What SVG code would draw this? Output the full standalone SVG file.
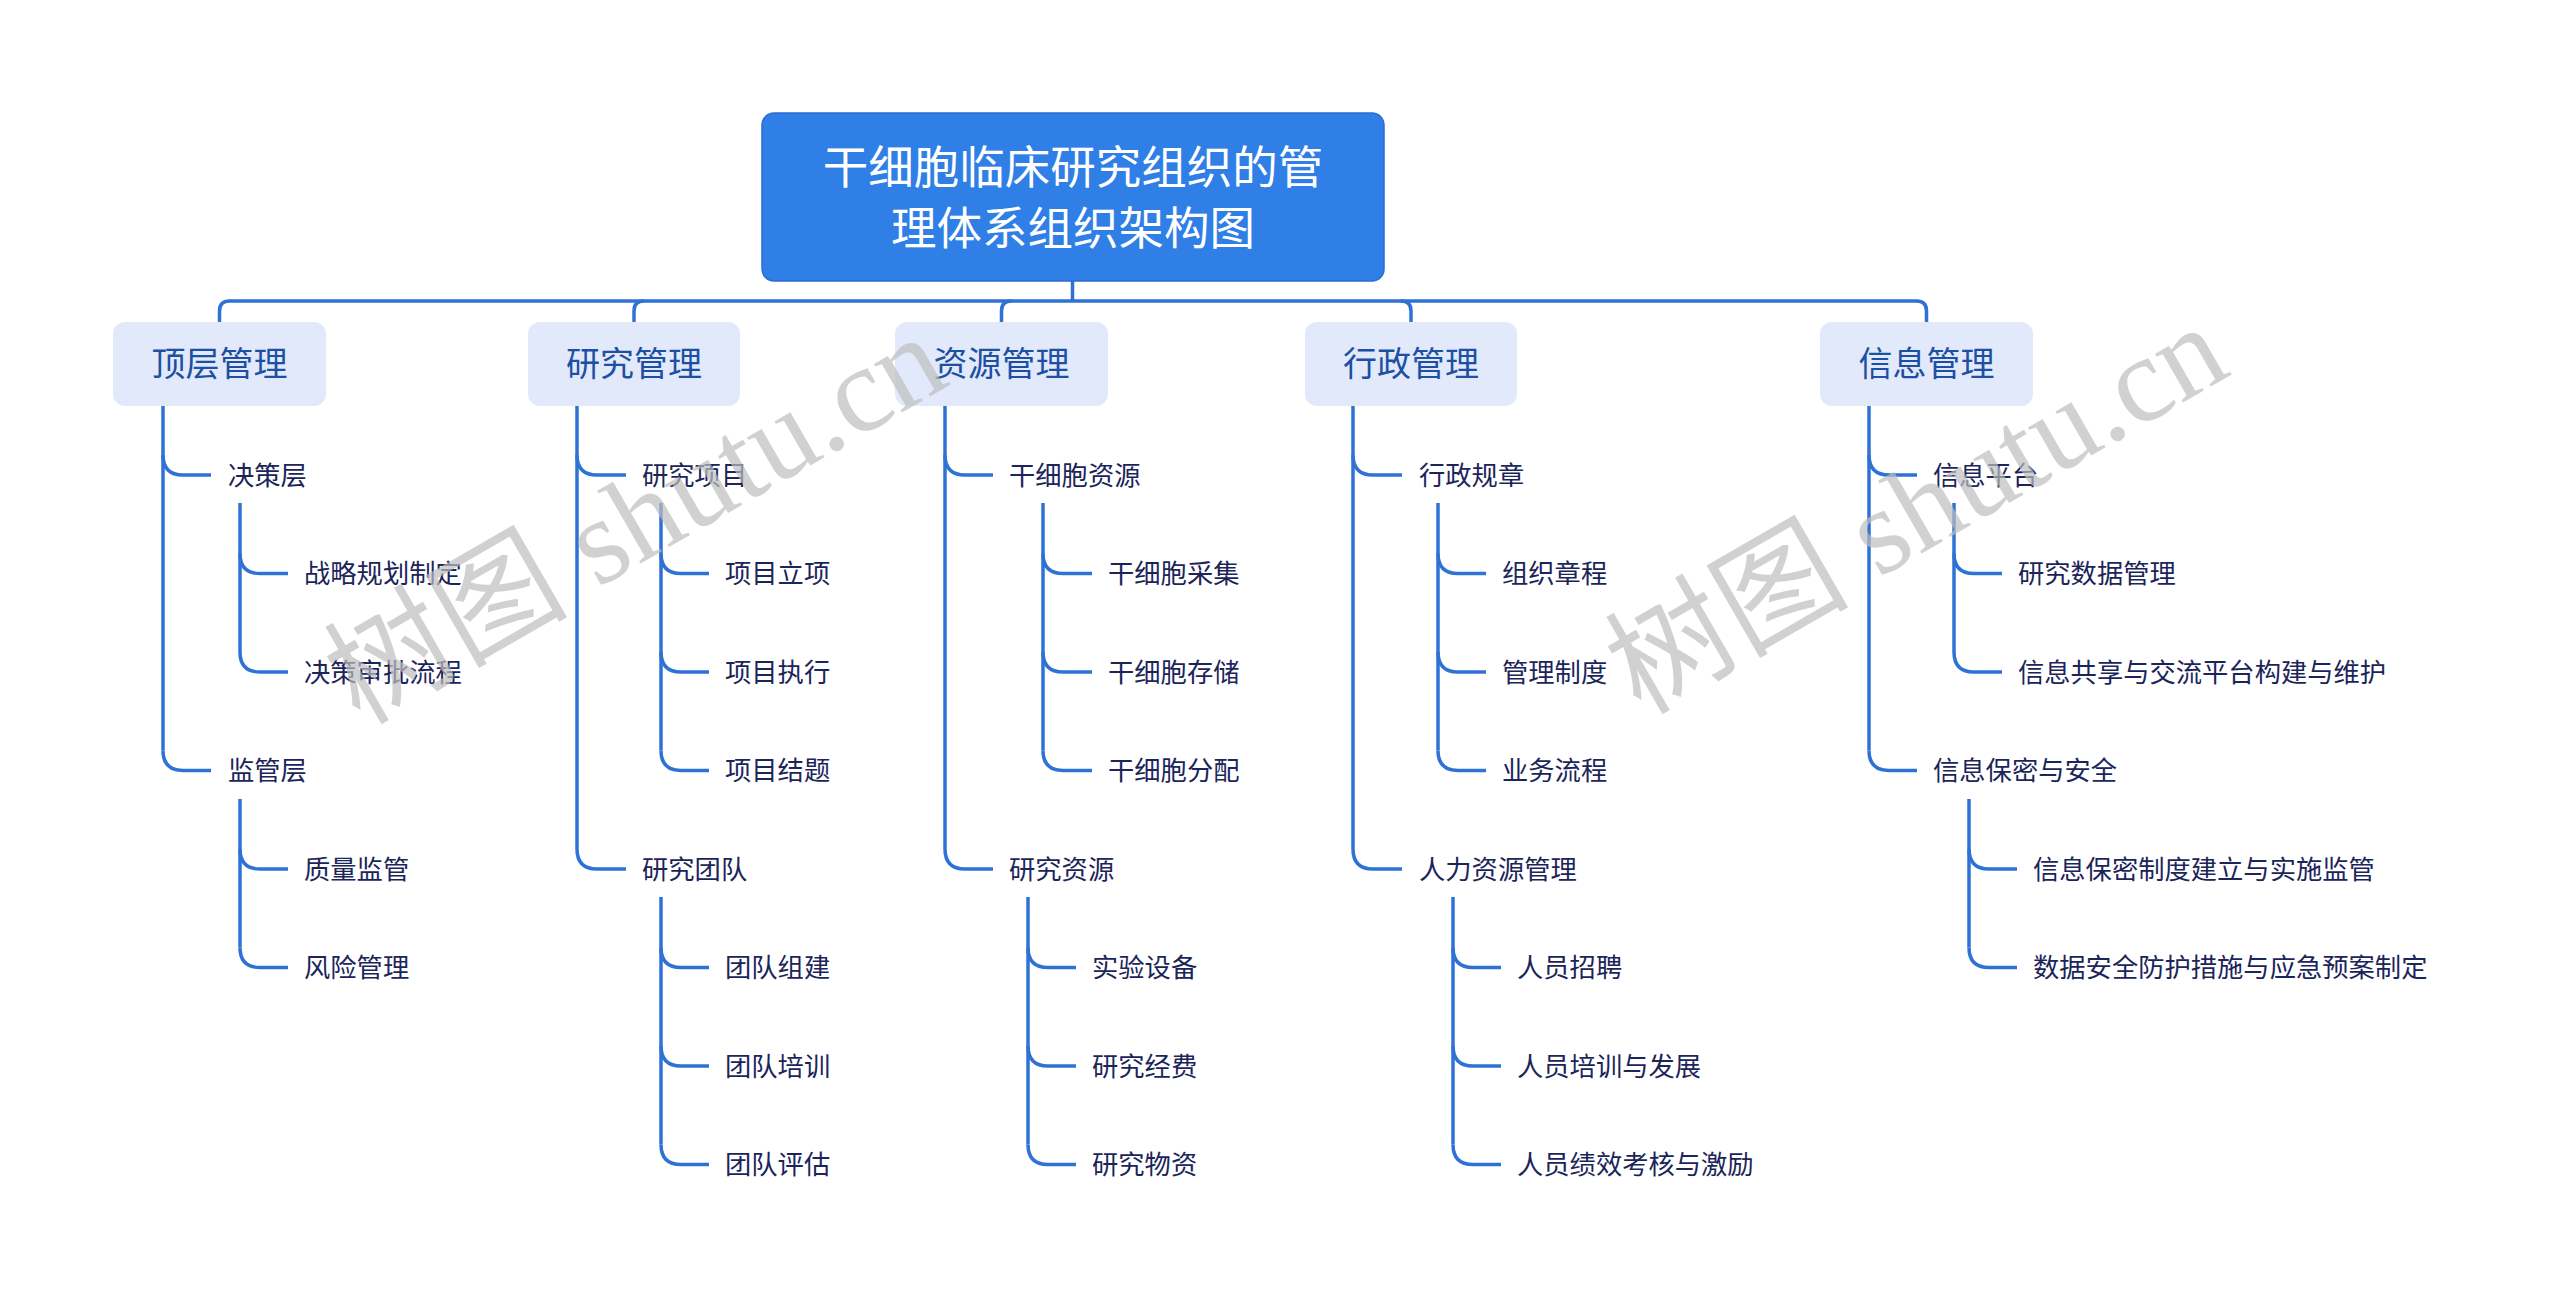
<svg xmlns="http://www.w3.org/2000/svg" width="2560" height="1308" viewBox="0 0 2560 1308">
<style>
.t2{font-family:"Noto Sans CJK SC","Noto Sans",sans-serif;font-size:26.3px;fill:#1b2559}
.t1{font-family:"Noto Sans CJK SC","Noto Sans",sans-serif;font-size:34px;fill:#1d4fa3;text-anchor:middle}
.tr{font-family:"Noto Sans CJK SC","Noto Sans",sans-serif;font-size:45.5px;fill:#ffffff;text-anchor:middle}
.b1{fill:#e1e9fb}
.c{fill:none;stroke:#2f72d6;stroke-width:3.5;stroke-linecap:butt}
.wm{font-family:"Liberation Serif","Noto Sans CJK SC",serif;font-size:122px;fill:#bdbdbd;fill-opacity:0.7;text-anchor:middle}
</style>
<rect width="2560" height="1308" fill="#ffffff"/>
<g id="connectors" class="c">
<path class="c" d="M1072.5,281 L1072.5,301"/>
<path class="c" d="M219.5,322 L219.5,311 Q219.5,301 229.5,301 L1916.5,301 Q1926.5,301 1926.5,311 L1926.5,322"/>
<path class="c" d="M634,322 L634,311 Q634,301 644,301"/>
<path class="c" d="M1001.5,322 L1001.5,311 Q1001.5,301 1011.5,301"/>
<path class="c" d="M1411,322 L1411,311 Q1411,301 1401,301"/>
<!-- A -->
<path class="c" d="M163,406 L163,750.5"/>
<path class="c" d="M163,455 Q163,475 183,475 L211,475"/>
<path class="c" d="M163,750.5 Q163,770.5 183,770.5 L211,770.5"/>
<path class="c" d="M240,503 L240,652"/>
<path class="c" d="M240,553.5 Q240,573.5 260,573.5 L288,573.5"/>
<path class="c" d="M240,652 Q240,672 260,672 L288,672"/>
<path class="c" d="M240,799 L240,947.5"/>
<path class="c" d="M240,849 Q240,869 260,869 L288,869"/>
<path class="c" d="M240,947.5 Q240,967.5 260,967.5 L288,967.5"/>
<!-- B -->
<path class="c" d="M577,406 L577,849"/>
<path class="c" d="M577,455 Q577,475 597,475 L626,475"/>
<path class="c" d="M577,849 Q577,869 597,869 L626,869"/>
<path class="c" d="M661,503 L661,750.5"/>
<path class="c" d="M661,553.5 Q661,573.5 681,573.5 L709,573.5"/>
<path class="c" d="M661,652 Q661,672 681,672 L709,672"/>
<path class="c" d="M661,750.5 Q661,770.5 681,770.5 L709,770.5"/>
<path class="c" d="M661,897 L661,1144.5"/>
<path class="c" d="M661,947.5 Q661,967.5 681,967.5 L709,967.5"/>
<path class="c" d="M661,1046 Q661,1066 681,1066 L709,1066"/>
<path class="c" d="M661,1144.5 Q661,1164.5 681,1164.5 L709,1164.5"/>
<!-- C -->
<path class="c" d="M945,406 L945,849"/>
<path class="c" d="M945,455 Q945,475 965,475 L993,475"/>
<path class="c" d="M945,849 Q945,869 965,869 L993,869"/>
<path class="c" d="M1043,503 L1043,750.5"/>
<path class="c" d="M1043,553.5 Q1043,573.5 1063,573.5 L1092,573.5"/>
<path class="c" d="M1043,652 Q1043,672 1063,672 L1092,672"/>
<path class="c" d="M1043,750.5 Q1043,770.5 1063,770.5 L1092,770.5"/>
<path class="c" d="M1028,897 L1028,1144.5"/>
<path class="c" d="M1028,947.5 Q1028,967.5 1048,967.5 L1076,967.5"/>
<path class="c" d="M1028,1046 Q1028,1066 1048,1066 L1076,1066"/>
<path class="c" d="M1028,1144.5 Q1028,1164.5 1048,1164.5 L1076,1164.5"/>
<!-- D -->
<path class="c" d="M1353,406 L1353,849"/>
<path class="c" d="M1353,455 Q1353,475 1373,475 L1402,475"/>
<path class="c" d="M1353,849 Q1353,869 1373,869 L1402,869"/>
<path class="c" d="M1438,503 L1438,750.5"/>
<path class="c" d="M1438,553.5 Q1438,573.5 1458,573.5 L1486,573.5"/>
<path class="c" d="M1438,652 Q1438,672 1458,672 L1486,672"/>
<path class="c" d="M1438,750.5 Q1438,770.5 1458,770.5 L1486,770.5"/>
<path class="c" d="M1453,897 L1453,1144.5"/>
<path class="c" d="M1453,947.5 Q1453,967.5 1473,967.5 L1501,967.5"/>
<path class="c" d="M1453,1046 Q1453,1066 1473,1066 L1501,1066"/>
<path class="c" d="M1453,1144.5 Q1453,1164.5 1473,1164.5 L1501,1164.5"/>
<!-- E -->
<path class="c" d="M1869,406 L1869,750.5"/>
<path class="c" d="M1869,455 Q1869,475 1889,475 L1917,475"/>
<path class="c" d="M1869,750.5 Q1869,770.5 1889,770.5 L1917,770.5"/>
<path class="c" d="M1954,503 L1954,652"/>
<path class="c" d="M1954,553.5 Q1954,573.5 1974,573.5 L2002,573.5"/>
<path class="c" d="M1954,652 Q1954,672 1974,672 L2002,672"/>
<path class="c" d="M1969,799 L1969,947.5"/>
<path class="c" d="M1969,849 Q1969,869 1989,869 L2017,869"/>
<path class="c" d="M1969,947.5 Q1969,967.5 1989,967.5 L2017,967.5"/>
</g>
<g id="root">
<rect x="762" y="113" width="622" height="168" rx="12" fill="#2f7fe6" stroke="#2a6ccf" stroke-width="1.5"/>
<text class="tr" x="1073" y="184">干细胞临床研究组织的管</text>
<text class="tr" x="1073" y="245">理体系组织架构图</text>
</g>
<g id="n-top"><rect class="b1" x="113" y="322" width="213" height="84" rx="12"/><text class="t1" x="219.5" y="376">顶层管理</text></g>
<g id="n-research"><rect class="b1" x="528" y="322" width="212" height="84" rx="12"/><text class="t1" x="634" y="376">研究管理</text></g>
<g id="n-resource"><rect class="b1" x="895" y="322" width="213" height="84" rx="12"/><text class="t1" x="1001.5" y="376">资源管理</text></g>
<g id="n-admin"><rect class="b1" x="1305" y="322" width="212" height="84" rx="12"/><text class="t1" x="1411" y="376">行政管理</text></g>
<g id="n-info"><rect class="b1" x="1820" y="322" width="213" height="84" rx="12"/><text class="t1" x="1926.5" y="376">信息管理</text></g>

<g id="n-a1"><text class="t2" x="228" y="484.5">决策层</text></g>
<g id="n-a1-1"><text class="t2" x="304" y="583">战略规划制定</text></g>
<g id="n-a1-2"><text class="t2" x="304" y="681.5">决策审批流程</text></g>
<g id="n-a2"><text class="t2" x="228" y="780">监管层</text></g>
<g id="n-a2-1"><text class="t2" x="304" y="878.5">质量监管</text></g>
<g id="n-a2-2"><text class="t2" x="304" y="977">风险管理</text></g>

<g id="n-b1"><text class="t2" x="642" y="484.5">研究项目</text></g>
<g id="n-b1-1"><text class="t2" x="725" y="583">项目立项</text></g>
<g id="n-b1-2"><text class="t2" x="725" y="681.5">项目执行</text></g>
<g id="n-b1-3"><text class="t2" x="725" y="780">项目结题</text></g>
<g id="n-b2"><text class="t2" x="642" y="878.5">研究团队</text></g>
<g id="n-b2-1"><text class="t2" x="725" y="977">团队组建</text></g>
<g id="n-b2-2"><text class="t2" x="725" y="1075.5">团队培训</text></g>
<g id="n-b2-3"><text class="t2" x="725" y="1174">团队评估</text></g>

<g id="n-c1"><text class="t2" x="1009" y="484.5">干细胞资源</text></g>
<g id="n-c1-1"><text class="t2" x="1108" y="583">干细胞采集</text></g>
<g id="n-c1-2"><text class="t2" x="1108" y="681.5">干细胞存储</text></g>
<g id="n-c1-3"><text class="t2" x="1108" y="780">干细胞分配</text></g>
<g id="n-c2"><text class="t2" x="1009" y="878.5">研究资源</text></g>
<g id="n-c2-1"><text class="t2" x="1092" y="977">实验设备</text></g>
<g id="n-c2-2"><text class="t2" x="1092" y="1075.5">研究经费</text></g>
<g id="n-c2-3"><text class="t2" x="1092" y="1174">研究物资</text></g>

<g id="n-d1"><text class="t2" x="1419" y="484.5">行政规章</text></g>
<g id="n-d1-1"><text class="t2" x="1502" y="583">组织章程</text></g>
<g id="n-d1-2"><text class="t2" x="1502" y="681.5">管理制度</text></g>
<g id="n-d1-3"><text class="t2" x="1502" y="780">业务流程</text></g>
<g id="n-d2"><text class="t2" x="1419" y="878.5">人力资源管理</text></g>
<g id="n-d2-1"><text class="t2" x="1517" y="977">人员招聘</text></g>
<g id="n-d2-2"><text class="t2" x="1517" y="1075.5">人员培训与发展</text></g>
<g id="n-d2-3"><text class="t2" x="1517" y="1174">人员绩效考核与激励</text></g>

<g id="n-e1"><text class="t2" x="1933" y="484.5">信息平台</text></g>
<g id="n-e1-1"><text class="t2" x="2018" y="583">研究数据管理</text></g>
<g id="n-e1-2"><text class="t2" x="2018" y="681.5">信息共享与交流平台构建与维护</text></g>
<g id="n-e2"><text class="t2" x="1933" y="780">信息保密与安全</text></g>
<g id="n-e2-1"><text class="t2" x="2033" y="878.5">信息保密制度建立与实施监管</text></g>
<g id="n-e2-2"><text class="t2" x="2033" y="977">数据安全防护措施与应急预案制定</text></g>

<g id="watermark">
<text class="wm" transform="translate(636,520) rotate(-30)" y="40">树图 shutu.cn</text>
<text class="wm" transform="translate(1917,510) rotate(-30)" y="40">树图 shutu.cn</text>
</g>
</svg>
